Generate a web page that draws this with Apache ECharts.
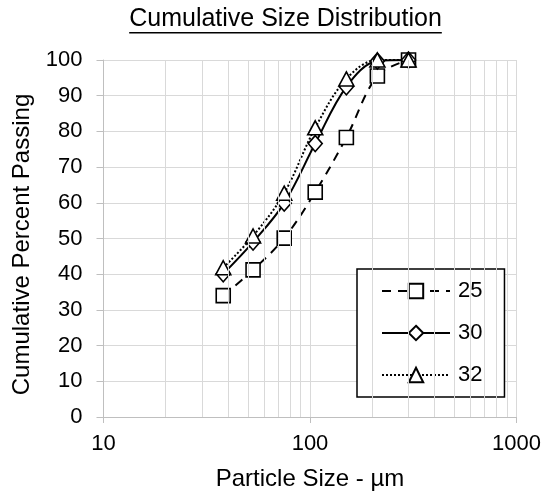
<!DOCTYPE html>
<html>
<head>
<meta charset="utf-8">
<script src="https://cdn.jsdelivr.net/npm/echarts@6/dist/echarts.min.js"></script>
<style>
  html, body { margin: 0; padding: 0; background: #fff; }
  #main { width: 547px; height: 496px; }
</style>
</head>
<body>
<div id="main"></div>
<script>
// sieve sizes (µm) and cumulative % passing
var sizes = [38, 53, 75, 106, 150, 212, 300];
var pass25 = [34.0, 41.2, 50.1, 63.0, 78.3, 95.5, 100];
var pass30 = [40.1, 49.0, 59.9, 76.6, 92.5, 99.7, 100];
var pass32 = [41.8, 50.7, 62.7, 81.0, 94.7, 100, 100];
var minorX = [20, 30, 40, 50, 60, 70, 80, 90, 200, 300, 400, 500, 600, 700, 800, 900];

var FONT = '"Liberation Sans", Arial, sans-serif';
var GRID = '#d9d9d9';

var pairs = function (ys) {
    return sizes.map(function (s, i) { return [s, ys[i]]; });
};

var titleText = 'Cumulative Size Distribution';
var titleSize = 25;
var ctx = document.createElement('canvas').getContext('2d');
ctx.font = titleSize + 'px ' + FONT;
var titleW = ctx.measureText(titleText).width;
var titleCx = 285.5;

var mkSeries = function (name, ys, symbol, size, dash) {
    return {
        name: name,
        type: 'line',
        data: pairs(ys),
        smooth: 0.35,
        symbol: symbol,
        symbolSize: size,
        z: 3,
        lineStyle: { color: '#000', width: 2, type: dash },
        itemStyle: { color: '#fff', borderColor: '#000', borderWidth: 1.6 }
    };
};

var chart = echarts.init(document.getElementById('main'));
chart.setOption({
    animation: false,
    textStyle: { fontFamily: FONT },
    title: {
        text: titleText,
        left: titleCx - titleW / 2,
        top: 7,
        padding: 0,
        textStyle: { fontSize: titleSize, fontWeight: 'normal', color: '#000', fontFamily: FONT }
    },
    graphic: [{
        type: 'rect',
        shape: { x: titleCx - titleW / 2, y: 32, width: titleW, height: 1.5 },
        style: { fill: '#000' }
    }],
    grid: { left: 103.5, right: 30.5, top: 60, bottom: 77 },
    legend: {
        orient: 'vertical',
        left: 357,
        top: 269,
        padding: [11, 22, 11, 24],
        itemWidth: 68,
        itemHeight: 18,
        itemGap: 20,
        borderColor: '#000',
        borderWidth: 1.5,
        backgroundColor: '#fff',
        textStyle: { fontSize: 22, color: '#000', fontFamily: FONT, padding: [0, 0, 0, 3] },
        data: ['25', '30', '32']
    },
    xAxis: {
        type: 'log',
        logBase: 10,
        min: 10,
        max: 1000,
        name: 'Particle Size - µm',
        nameLocation: 'middle',
        nameGap: 50,
        nameTextStyle: { fontSize: 24, color: '#000' },
        axisLine: { lineStyle: { color: '#bfbfbf', width: 1 } },
        axisTick: { show: true, length: 6, lineStyle: { color: '#bfbfbf' } },
        axisLabel: { fontSize: 22, color: '#000', margin: 16, formatter: function (v) { return String(v); } },
        splitLine: { show: true, lineStyle: { color: GRID } }
    },
    yAxis: {
        type: 'value',
        min: 0,
        max: 100,
        interval: 10,
        name: 'Cumulative Percent Passing',
        nameLocation: 'middle',
        nameGap: 69,
        nameTextStyle: { fontSize: 24, color: '#000', padding: [0, 12, 0, 0] },
        axisLine: { show: true, lineStyle: { color: '#bfbfbf', width: 1 } },
        axisTick: { show: true, length: 7, lineStyle: { color: '#bfbfbf' } },
        axisLabel: { fontSize: 22, color: '#000', margin: 21 },
        splitLine: { show: true, lineStyle: { color: GRID } }
    },
    series: [
        {
            name: 'minor',
            type: 'line',
            data: [],
            z: 1,
            silent: true,
            markLine: {
                silent: true,
                symbol: 'none',
                label: { show: false },
                lineStyle: { color: GRID, width: 1, type: 'solid' },
                data: minorX.map(function (v) { return { xAxis: v }; })
            }
        },
        mkSeries('25', pass25, 'rect', 14, [9, 7]),
        mkSeries('30', pass30, 'diamond', [14, 16], 'solid'),
        mkSeries('32', pass32, 'triangle', [15, 14], [2, 2])
    ]
});
</script>
</body>
</html>
